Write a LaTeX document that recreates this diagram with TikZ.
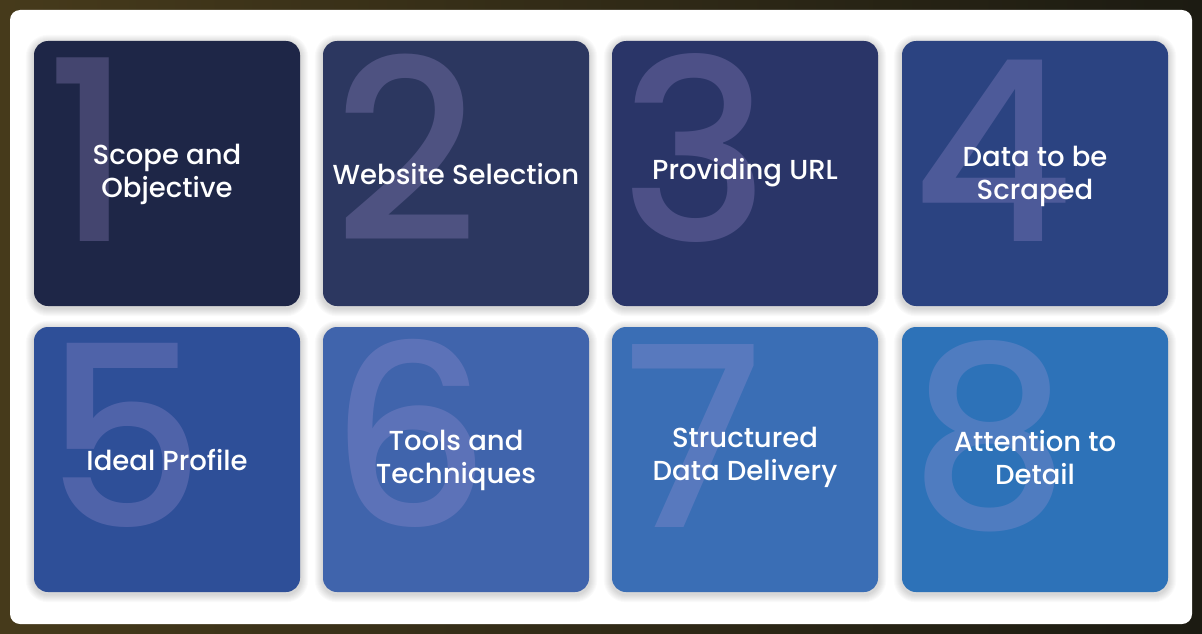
\documentclass[tikz,border=0pt]{standalone}
\usepackage{fontspec}
\setmainfont{Poppins}
\newfontfamily\poppinsmed{Poppins Medium}
\usetikzlibrary{calc}

\definecolor{fond}{HTML}{463A1B}
\definecolor{fondb}{HTML}{1C1B12}
\definecolor{c1}{HTML}{1E2647}
\definecolor{c2}{HTML}{2C3760}
\definecolor{c3}{HTML}{2A3568}
\definecolor{c4}{HTML}{2B4381}
\definecolor{c5}{HTML}{2E4F98}
\definecolor{c6}{HTML}{4064AC}
\definecolor{c7}{HTML}{3A6EB5}
\definecolor{c8}{HTML}{2D72B8}
\definecolor{chif}{HTML}{A898D8}

\pgfdeclarelayer{arriere}
\pgfdeclarelayer{ombre}
\pgfsetlayers{arriere,ombre,main}

\tikzset{
  tuile/.style={rounded corners=14pt, minimum width=266pt, minimum height=265pt,
    inner sep=0pt},
  chiffre/.style={anchor=base west, inner sep=0pt, text=chif, text opacity=0.28,
    font=\poppinsmed\fontsize{252}{252}\selectfont},
  titre/.style={text=white, align=center, inner sep=0pt,
    font=\poppinsmed\fontsize{27.5}{33}\selectfont}
}

% ombre douce autour d'une tuile
\newcommand{\ombretuile}[1]{%
  \begin{pgfonlayer}{ombre}
    \foreach \k in {1,...,8}
      \fill[black, opacity=0.018, rounded corners=14pt+\k pt]
        ($(#1.north west)+(-\k,-\k+2)$) rectangle ($(#1.south east)+(\k,\k+2)$);
  \end{pgfonlayer}}

\begin{document}
\begin{tikzpicture}[x=1pt,y=-1pt]
		% fond
		\begin{pgfonlayer}{arriere}
		\shade[left color=fond, right color=fondb] (0,0) rectangle (1202,634);
		\fill[white, rounded corners=10pt] (10,10) rectangle (1192,624);
		\end{pgfonlayer}
		\useasboundingbox (0,0) rectangle (1202,634);
		
		% premiere rangee
		\node[tuile, fill=c1] (t1) at (167,173.5) {};
		\node[tuile, fill=c2] (t2) at (456,173.5) {};
		\node[tuile, fill=c3] (t3) at (745,173.5) {};
		\node[tuile, fill=c4] (t4) at (1035,173.5) {};
		% deuxieme rangee
		\node[tuile, fill=c5] (t5) at (167,459.5) {};
		\node[tuile, fill=c6] (t6) at (456,459.5) {};
		\node[tuile, fill=c7] (t7) at (745,459.5) {};
		\node[tuile, fill=c8] (t8) at (1035,459.5) {};
		\foreach \t in {t1,t2,t3,t4,t5,t6,t7,t8} {\ombretuile{\t}}
		
		% grands chiffres
		\node[chiffre] (n1) at ($(t1.north west)+(11,201)$) {1};
		\node[chiffre] (n2) at ($(t2.north west)+(10,201)$) {2};
		\node[chiffre] (n3) at ($(t3.north west)+(8,201)$) {3};
		\node[chiffre] (n4) at ($(t4.north west)+(9,201)$) {4};
		\node[chiffre] (n5) at ($(t5.north west)+(10,201)$) {5};
		\node[chiffre] (n6) at ($(t6.north west)+(6,201)$) {6};
		\node[chiffre] (n7) at ($(t7.north west)+(10,201)$) {7};
		\node[chiffre] (n8) at ($(t8.north west)+(7,201)$) {8};
		
		% textes
		\node[titre] (l1) at ($(t1)+(0,1)$) {Scope and\\Objective};
		\node[titre] (l2) at ($(t2)+(0,1)$) {Website Selection};
		\node[titre] (l3) at ($(t3)+(0,-1)$) {Providing URL};
		\node[titre] (l4) at ($(t4)+(0,3)$) {Data to be\\Scraped};
		\node[titre] (l5) at ($(t5)+(0,1)$) {Ideal Profile};
		\node[titre] (l6) at ($(t6)+(0,1)$) {Tools and\\Techniques};
		\node[titre] (l7) at ($(t7)+(0,-2)$) {Structured\\Data Delivery};
		\node[titre] (l8) at ($(t8)+(0,-2)$) {Attention to\\Detail};
	\end{tikzpicture}
\end{document}
